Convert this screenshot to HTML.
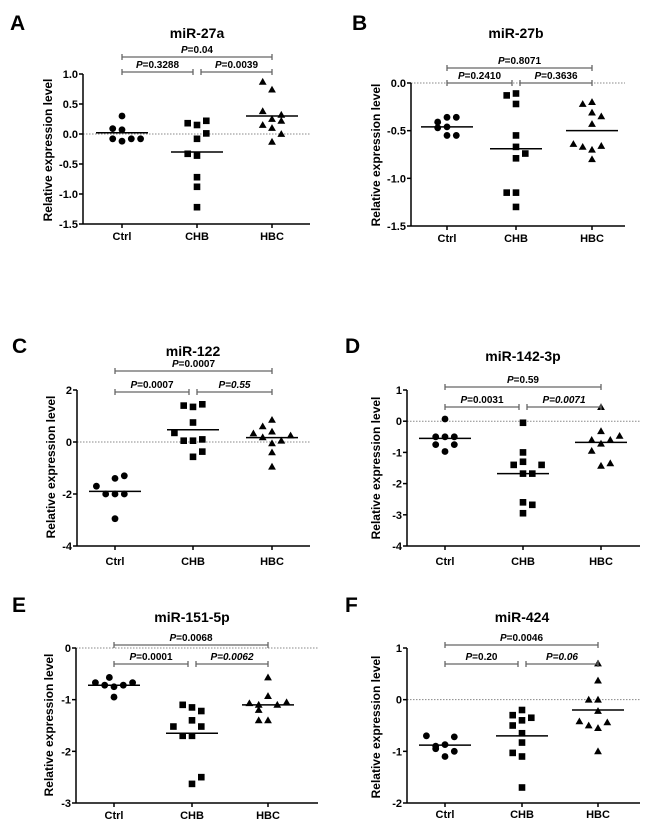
<!DOCTYPE html>
<html><head><meta charset="utf-8">
<style>
html,body{margin:0;padding:0;background:#fff;}
svg{display:block;font-family:"Liberation Sans",Arial,sans-serif;}
</style></head>
<body>
<svg id="fig" width="650" height="834" viewBox="0 0 650 834" xmlns="http://www.w3.org/2000/svg"></svg>
<script>
// ---- data ----
const categories = ["Ctrl","CHB","HBC"];
const aCtrl=[0.30,0.09,0.07,-0.08,-0.12,-0.08,-0.08];
const aCHB=[0.18,0.15,0.22,-0.08,0.01,-0.33,-0.36,-0.72,-0.88,-1.22];
const aHBC=[0.87,0.74,0.38,0.32,0.25,0.15,0.22,0.10,0.00,-0.13];
const aMed=[0.02,-0.30,0.30];
const bCtrl=[-0.41,-0.36,-0.36,-0.47,-0.46,-0.55,-0.55];
const bCHB=[-0.13,-0.11,-0.22,-0.55,-0.67,-0.74,-0.79,-1.15,-1.15,-1.30];
const bHBC=[-0.22,-0.20,-0.31,-0.35,-0.43,-0.64,-0.67,-0.70,-0.66,-0.80];
const bMed=[-0.46,-0.69,-0.50];
const cCtrl=[-1.3,-1.4,-1.7,-2.0,-2.0,-2.0,-2.95];
const cCHB=[1.40,1.35,1.45,0.75,0.35,0.05,0.05,0.10,-0.37,-0.57];
const cHBC=[0.85,0.60,0.33,0.40,0.18,0.25,-0.05,0.05,-0.40,-0.95];
const cMed=[-1.9,0.47,0.17];
const dCtrl=[0.07,-0.5,-0.5,-0.5,-0.75,-0.75,-0.97];
const dCHB=[-0.05,-1.0,-1.3,-1.4,-1.4,-1.68,-1.68,-2.6,-2.68,-2.95];
const dHBC=[0.45,-0.32,-0.47,-0.60,-0.60,-0.72,-0.95,-1.35,-1.43];
const dMed=[-0.55,-1.68,-0.68];
const eCtrl=[-0.67,-0.72,-0.57,-0.75,-0.72,-0.67,-0.95];
const eCHB=[-1.10,-1.15,-1.22,-1.40,-1.52,-1.52,-1.70,-1.70,-2.50,-2.63];
const eHBC=[-0.57,-0.93,-1.07,-1.10,-1.10,-1.05,-1.20,-1.40,-1.40];
const eMed=[-0.72,-1.65,-1.10];
const fCtrl=[-0.70,-0.72,-0.90,-0.87,-0.95,-1.00,-1.10];
const fCHB=[-0.20,-0.30,-0.35,-0.40,-0.50,-0.65,-0.83,-1.03,-1.10,-1.70];
const fHBC=[0.70,0.37,0.00,0.00,-0.22,-0.42,-0.50,-0.55,-0.44,-1.00];
const fMed=[-0.88,-0.70,-0.20];
const aTicks=["1.0","0.5","0.0","-0.5","-1.0","-1.5"];
const bTicks=["0.0","-0.5","-1.0","-1.5"];
const cTicks=["2","0","-2","-4"];
const dTicks=["1","0","-1","-2","-3","-4"];
const eTicks=["0","-1","-2","-3"];
const fTicks=["1","0","-1","-2"];
const aP=["0.04","0.3288","0.0039"], bP=["0.8071","0.2410","0.3636"], cP=["0.0007","0.0007","0.55"];
const dP=["0.59","0.0031","0.0071"], eP=["0.0068","0.0001","0.0062"], fP=["0.0046","0.20","0.06"];

// ---- layout (jitter in marker steps) ----
const jit={
 a:[[0,-1,0,-1,0,1,2],[-1,0,1,0,1,-1,0,0,0,0],[-1,0,-1,1,0,-1,1,0,1,0]],
 b:[[-1,0,1,-1,0,0,1],[-1,0,0,0,0,1,0,-1,0,0],[-1,0,0,1,0,-2,-1,0,1,0]],
 c:[[1,0,-2,-1,0,1,0],[-1,0,1,0,-2,-1,0,1,1,0],[0,-1,-2,0,-1,2,0,1,0,0]],
 d:[[0,-1,0,1,-1,1,0],[0,0,0,-1,2,0,1,0,1,0],[0,0,2,-1,1,0,-1,1,0]],
 e:[[-2,-1,-0.5,0,1,2,0],[-1,0,1,0,-2,1,-1,0,1,0],[0,0,-2,-1,1,2,-1,-1,0]],
 f:[[-2,1,-1,0,-1,1,0],[0,-1,1,0,-1,0,0,-1,0,0],[0,0,-1,0,0,-2,-1,0,1,0]]
};
const panels=[
 {k:'a',L:'A',title:'miR-27a',vals:[aCtrl,aCHB,aHBC],med:aMed,ticks:aTicks,P:aP,ital:[0,0,0],
  lx:10,ly:30,ax:83,ax2:310,yT:74,yB:224,vmax:1,vmin:-1.5,cx:[122,197,272],ty:38,top:57,low:72,ytx:52,yty:150,xly:240},
 {k:'b',L:'B',title:'miR-27b',vals:[bCtrl,bCHB,bHBC],med:bMed,ticks:bTicks,P:bP,ital:[0,0,0],
  lx:352,ly:30,ax:411,ax2:625,yT:83,yB:226,vmax:0,vmin:-1.5,cx:[447,516,592],ty:38,top:68,low:83,ytx:380,yty:155,xly:242},
 {k:'c',L:'C',title:'miR-122',vals:[cCtrl,cCHB,cHBC],med:cMed,ticks:cTicks,P:cP,ital:[0,0,1],
  lx:12,ly:353,ax:77,ax2:310,yT:390,yB:546,vmax:2,vmin:-4,cx:[115,193,272],ty:356,top:371,low:392,ytx:55,yty:467,xly:565},
 {k:'d',L:'D',title:'miR-142-3p',vals:[dCtrl,dCHB,dHBC],med:dMed,ticks:dTicks,P:dP,ital:[0,0,1],
  lx:345,ly:353,ax:407,ax2:640,yT:390,yB:546,vmax:1,vmin:-4,cx:[445,523,601],ty:361,top:387,low:407,ytx:380,yty:468,xly:565},
 {k:'e',L:'E',title:'miR-151-5p',vals:[eCtrl,eCHB,eHBC],med:eMed,ticks:eTicks,P:eP,ital:[0,0,1],
  lx:12,ly:612,ax:76,ax2:318,yT:648,yB:803,vmax:0,vmin:-3,cx:[114,192,268],ty:622,top:645,low:664,ytx:53,yty:725,xly:819},
 {k:'f',L:'F',title:'miR-424',vals:[fCtrl,fCHB,fHBC],med:fMed,ticks:fTicks,P:fP,ital:[0,0,1],
  lx:345,ly:612,ax:407,ax2:640,yT:648,yB:803,vmax:1,vmin:-2,cx:[445,522,598],ty:622,top:645,low:664,ytx:380,yty:727,xly:818}
];
const NS='http://www.w3.org/2000/svg';
const svg=document.getElementById('fig');
function mk(tag,attrs,parent,txt){const e=document.createElementNS(NS,tag);for(const a in attrs)e.setAttribute(a,attrs[a]);if(txt!==undefined)e.textContent=txt;(parent||svg).appendChild(e);return e;}
const STEP=9.3;
panels.forEach(p=>{
 const g=mk('g',{});
 
 
 const y=v=>p.yT+(p.vmax-v)/(p.vmax-p.vmin)*(p.yB-p.yT);
 const t=mk('text',{x:p.lx,y:p.ly,'font-size':21,'font-weight':'bold'},g,p.L);
 
 
 const tt=mk('text',{x:p.cx[1],y:p.ty,'font-size':14,'font-weight':'bold','text-anchor':'middle'},g,p.title);
 
 
 if(p.vmax>=0&&p.vmin<=0){const z=mk('line',{x1:p.ax,x2:p.ax2,y1:y(0),y2:y(0),stroke:'#888','stroke-width':1,'stroke-dasharray':'1.5,1.5'},g);
  }
 const ya=mk('line',{x1:p.ax,x2:p.ax,y1:p.yT,y2:p.yB,stroke:'#000','stroke-width':1.5},g);
 
 const xa=mk('line',{x1:p.ax,x2:p.ax2,y1:p.yB,y2:p.yB,stroke:'#000','stroke-width':1.5},g);
 
 p.ticks.forEach((lab,i)=>{const v=parseFloat(lab);const yy=y(v);
  mk('line',{x1:p.ax-4,x2:p.ax,y1:yy,y2:yy,stroke:'#000','stroke-width':1.5},g);
  const tl=mk('text',{x:p.ax-5,y:yy+4,'font-size':11,'font-weight':'bold','text-anchor':'end'},g,lab);
  });
 const yt=mk('text',{x:p.ytx,y:p.yty,'font-size':12,'font-weight':'bold','text-anchor':'middle',transform:`rotate(-90 ${p.ytx} ${p.yty})`},g,'Relative expression level');
 
 categories.forEach((c,i)=>{
  mk('line',{x1:p.cx[i],x2:p.cx[i],y1:p.yB,y2:p.yB+4,stroke:'#000','stroke-width':1.5},g);
  const xl=mk('text',{x:p.cx[i],y:p.xly,'font-size':11,'font-weight':'bold','text-anchor':'middle'},g,c);
  
  p.vals[i].forEach((v,j)=>{
   const px=p.cx[i]+(jit[p.k][i][j]||0)*STEP, py=y(v);let m;
   if(i===0)m=mk('circle',{cx:px,cy:py,r:3.4,fill:'#000'},g);
   else if(i===1)m=mk('rect',{x:px-3.3,y:py-3.3,width:6.6,height:6.6,fill:'#000'},g);
   else m=mk('polygon',{points:`${px},${py-3.9} ${px+3.9},${py+2.9} ${px-3.9},${py+2.9}`,fill:'#000'},g);
   
   
  });
  const md=mk('line',{x1:p.cx[i]-26,x2:p.cx[i]+26,y1:y(p.med[i]),y2:y(p.med[i]),stroke:'#000','stroke-width':1.5},g);
  
 });
 const br=[[p.cx[0],p.cx[2],p.top],[p.cx[0],p.cx[1]-4,p.low],[p.cx[1]+4,p.cx[2],p.low]];
 br.forEach((b,i)=>{
  const bg=mk('g',{},g);
  
  mk('line',{x1:b[0],x2:b[1],y1:b[2],y2:b[2],stroke:'#666','stroke-width':1.3},bg);
  mk('line',{x1:b[0],x2:b[0],y1:b[2]-3,y2:b[2]+3,stroke:'#666','stroke-width':1.3},bg);
  mk('line',{x1:b[1],x2:b[1],y1:b[2]-3,y2:b[2]+3,stroke:'#666','stroke-width':1.3},bg);
  const it=p.ital[i]&&i===2;
  const tx=mk('text',{x:(b[0]+b[1])/2,y:b[2]-4,'font-size':10,'font-weight':'bold','text-anchor':'middle'},bg);
  
  mk('tspan',{'font-style':'italic'},tx,'P');
  mk('tspan',it?{'font-style':'italic'}:{},tx,'='+p.P[i]);
 });
});
</script>
</body></html>
